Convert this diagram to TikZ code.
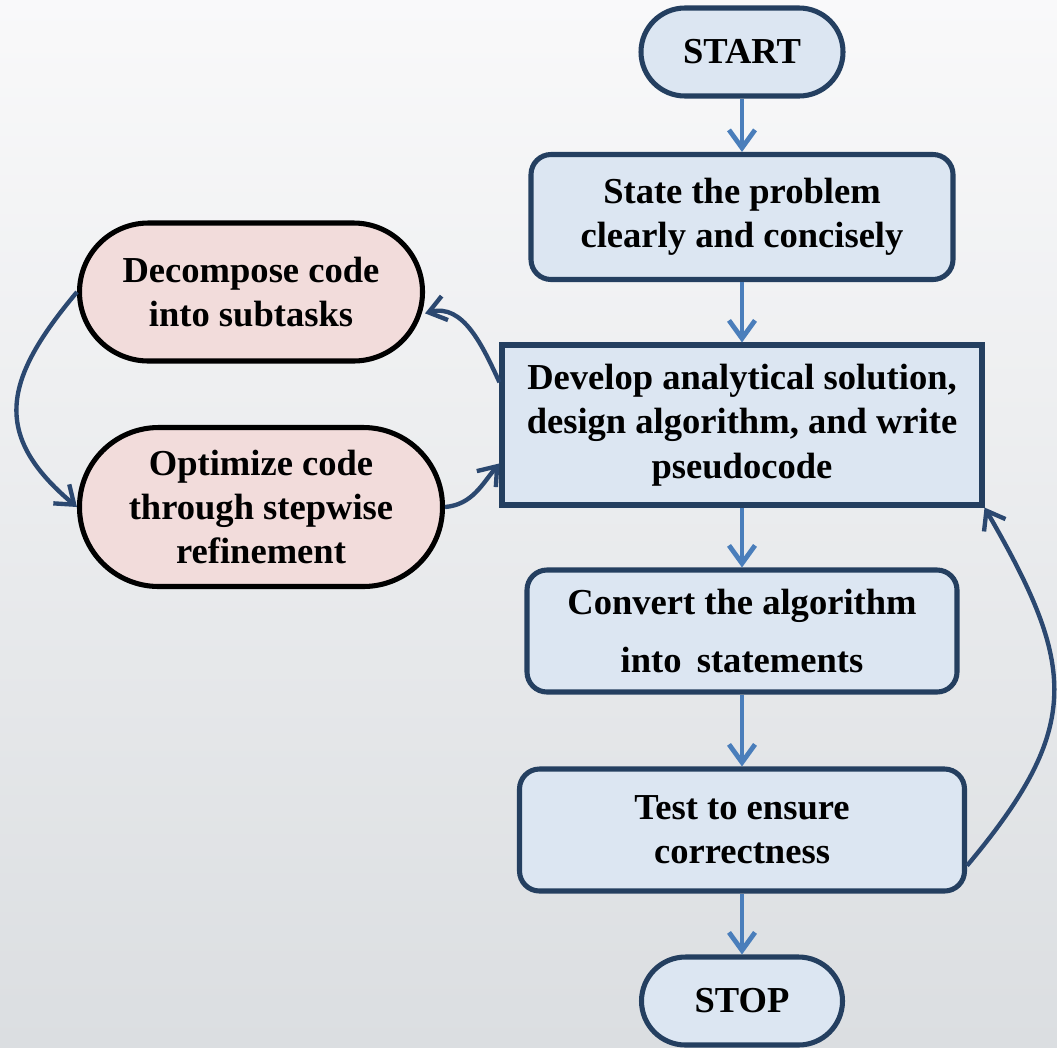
\documentclass[tikz,border=0pt]{standalone}
\usepackage{fontspec}
\setmainfont{Liberation Serif}
\usetikzlibrary{arrows.meta,shapes.misc}

\definecolor{boxline}{HTML}{243F60}
\definecolor{boxfill}{HTML}{DCE6F2}
\definecolor{pinkfill}{HTML}{F2DCDB}
\definecolor{flowblue}{HTML}{4A7EBB}
\definecolor{curveblue}{HTML}{2B4870}
\definecolor{bgtop}{HTML}{F9F9FA}
\definecolor{bgbottom}{HTML}{DBDEE1}

\begin{document}
\begin{tikzpicture}[font=\fontsize{26}{31.5}\selectfont\bfseries,
        base/.style={draw=boxline, fill=boxfill, line width=3.6pt, align=center, inner sep=0pt},
        terminal/.style={base, rounded corners=1.1cm, minimum width=5.05cm, minimum height=2.2cm},
        process/.style={base, rounded corners=0.5cm, minimum height=3.05cm},
        pinkpill/.style={base, draw=black, fill=pinkfill},
        flowarrow/.style={flowblue, line width=3.4pt, -{Straight Barb[length=0.45cm,width=0.65cm]}},
        backarrow/.style={curveblue, line width=3.1pt, -{Straight Barb[length=0.42cm,width=0.62cm]}}]
        % background
        \useasboundingbox (0,0) rectangle (26.425,-26.175);
        \shade[top color=bgtop, bottom color=bgbottom] (0,0) rectangle (26.425,-26.175);

        % main column
        \node[terminal] (start) at (18.55,-1.3) {START};
        \node[process, minimum width=10.55cm, minimum height=3.125cm] (state) at (18.55,-5.425)
            {State the problem\\clearly and concisely};
        \node[base, minimum width=12cm, minimum height=4cm] (develop) at (18.55,-10.625)
            {Develop analytical solution,\\design algorithm, and write\\pseudocode};
        \node[process, minimum width=10.75cm] (convert) at (18.55,-15.775)
            {Convert the algorithm\\[0.35cm]into\, statements};
        \node[process, minimum width=11.125cm] (test) at (18.55,-20.75)
            {Test to ensure\\correctness};
        \node[terminal, minimum width=5.025cm] (stop) at (18.55,-25.025) {STOP};

        % side loop
        \node[pinkpill, rounded corners=1.725cm, minimum width=8.575cm, minimum height=3.45cm]
            (decomp) at (6.275,-7.3) {Decompose code\\into subtasks};
        \node[pinkpill, rounded corners=1.98cm, minimum width=9.075cm, minimum height=3.975cm]
            (optim) at (6.525,-12.675) {Optimize code\\through stepwise\\refinement};

        % connectors
        \draw[flowarrow] (start) -- (state);
        \draw[flowarrow] (state) -- (develop);
        \draw[flowarrow] (develop) -- (convert);
        \draw[flowarrow] (convert) -- (test);
        \draw[flowarrow] (test) -- (stop);

        \draw[backarrow] (develop.170) to[out=115, in=15] (decomp.-7);
        \draw[backarrow] (decomp.west) to[out=230, in=140, looseness=1.35] (optim.west);
        \draw[backarrow] (optim.east) to[out=5, in=230] (develop.189);
        \draw[backarrow] (test.-9) to[out=50, in=-60, looseness=1.3] (develop.south east);
    \end{tikzpicture}
\end{document}
